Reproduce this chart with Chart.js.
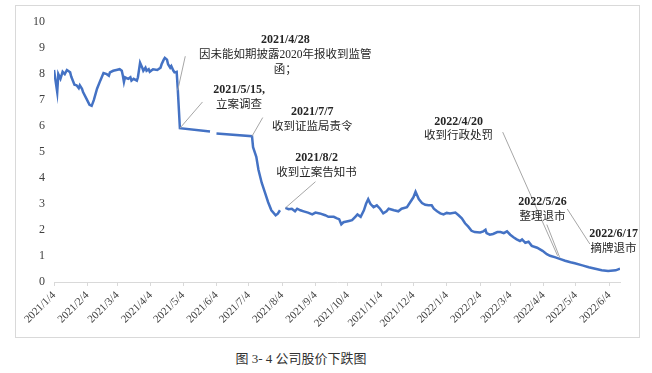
<!DOCTYPE html>
<html lang="zh">
  <head>
    <meta charset="utf-8">
    <title>公司股价下跌图</title>
    <style>
      body {padding: 0; margin: 0; background: #fff;}
      #box {position: absolute; left: 15px; top: 5px; width: 623px; height: 331px; border: 1px solid #d9d9d9;}
      #caption {position: absolute; left: 0; top: 348px; width: 602px; text-align: center;
        font: 13px "Liberation Serif", "Noto Sans CJK SC"; color: #333;}
    </style>
    <script src="https://cdn.jsdelivr.net/npm/chart.js@4.4.0/dist/chart.umd.min.js"></script>
  </head>
  <body>
    <div id="box"><canvas id="priceChart" width="623" height="331"></canvas></div>
    <div id="caption">图 3- 4 公司股价下跌图</div>
    <script>

      // x axis ticks (every month on the 4th)
      var tickLabels = ["2021/1/4", "2021/2/4", "2021/3/4", "2021/4/4", "2021/5/4", "2021/6/4",
        "2021/7/4", "2021/8/4", "2021/9/4", "2021/10/4", "2021/11/4", "2021/12/4",
        "2022/1/4", "2022/2/4", "2022/3/4", "2022/4/4", "2022/5/4", "2022/6/4"];

      // closing price (null = no trading)
      var dates = [
        "2021/1/4", "2021/1/7", "2021/1/8", "2021/1/10", "2021/1/12", "2021/1/14", "2021/1/16", "2021/1/17",
        "2021/1/19", "2021/1/20", "2021/1/23", "2021/1/25", "2021/1/27", "2021/1/28", "2021/1/30", "2021/1/31",
        "2021/2/3", "2021/2/6", "2021/2/8", "2021/2/10", "2021/2/13", "2021/2/16", "2021/2/19", "2021/2/22",
        "2021/2/24", "2021/2/25", "2021/2/28", "2021/3/3", "2021/3/6", "2021/3/8", "2021/3/9", "2021/3/10",
        "2021/3/11", "2021/3/14", "2021/3/16", "2021/3/17", "2021/3/19", "2021/3/22", "2021/3/23", "2021/3/25",
        "2021/3/27", "2021/3/28", "2021/3/30", "2021/3/31", "2021/4/2", "2021/4/3", "2021/4/6", "2021/4/10",
        "2021/4/13", "2021/4/14", "2021/4/16", "2021/4/17", "2021/4/19", "2021/4/20", "2021/4/22", "2021/4/23",
        "2021/4/25", "2021/4/26", "2021/4/28", "2021/4/29", "2021/5/1", "2021/5/29", "2021/6/1", "2021/6/4",
        "2021/7/7", "2021/7/8", "2021/7/11", "2021/7/13", "2021/7/16", "2021/7/19", "2021/7/22", "2021/7/25",
        "2021/7/29", "2021/7/31", "2021/8/2", "2021/8/4", "2021/8/7", "2021/8/10", "2021/8/13", "2021/8/16",
        "2021/8/18", "2021/8/21", "2021/8/24", "2021/8/28", "2021/9/1", "2021/9/4", "2021/9/8", "2021/9/13",
        "2021/9/16", "2021/9/21", "2021/9/24", "2021/9/26", "2021/9/28", "2021/9/30", "2021/10/5", "2021/10/8",
        "2021/10/11", "2021/10/13", "2021/10/16", "2021/10/19", "2021/10/21", "2021/10/23", "2021/10/25", "2021/10/28",
        "2021/10/31", "2021/11/3", "2021/11/6", "2021/11/9", "2021/11/11", "2021/11/16", "2021/11/20", "2021/11/23",
        "2021/11/28", "2021/12/1", "2021/12/4", "2021/12/6", "2021/12/9", "2021/12/12", "2021/12/15", "2021/12/18",
        "2021/12/21", "2021/12/23", "2021/12/26", "2021/12/29", "2022/1/1", "2022/1/4", "2022/1/7", "2022/1/12",
        "2022/1/15", "2022/1/18", "2022/1/21", "2022/1/24", "2022/1/27", "2022/1/30", "2022/2/4", "2022/2/7",
        "2022/2/9", "2022/2/10", "2022/2/13", "2022/2/16", "2022/2/20", "2022/2/23", "2022/2/26", "2022/3/1",
        "2022/3/4", "2022/3/7", "2022/3/10", "2022/3/13", "2022/3/15", "2022/3/18", "2022/3/21", "2022/3/24",
        "2022/3/29", "2022/4/3", "2022/4/7", "2022/4/10", "2022/4/15", "2022/4/19", "2022/4/24", "2022/4/29",
        "2022/5/3", "2022/5/10", "2022/5/16", "2022/5/22", "2022/5/28", "2022/6/3", "2022/6/10", "2022/6/14"];
      var prices = [
        8.16, 7.31, 8.00, 7.82, 8.09, 8.00, 8.16, 8.13,
        8.07, 7.91, 7.59, 7.57, 7.46, 7.57, 7.44, 7.31,
        7.07, 6.82, 6.78, 7.00, 7.44, 7.75, 8.04, 8.00,
        7.94, 8.07, 8.13, 8.16, 8.19, 8.13, 7.94, 7.70,
        7.88, 7.82, 7.88, 7.75, 7.82, 7.75, 7.88, 8.44,
        8.25, 8.13, 8.25, 8.13, 8.19, 8.09, 8.19, 8.16,
        8.25, 8.38, 8.56, 8.63, 8.56, 8.38, 8.25, 8.31,
        8.13, 8.07, 8.09, 7.44, 5.92, 5.79, null, 5.72,
        5.61, 5.19, 4.82, 4.32, 3.82, 3.45, 3.07, 2.76,
        2.57, 2.63, 2.76, null, 2.85, 2.80, 2.82, 2.72,
        2.82, 2.76, 2.72, 2.67, 2.60, 2.67, 2.64, 2.57,
        2.51, 2.51, 2.45, 2.42, 2.22, 2.30, 2.35, 2.38,
        2.51, 2.60, 2.51, 2.76, 3.01, 3.19, 3.01, 2.88,
        2.95, 2.82, 2.64, 2.72, 2.82, 2.76, 2.72, 2.82,
        2.88, 3.07, 3.26, 3.47, 3.19, 3.04, 2.97, 2.95,
        2.95, 2.82, 2.72, 2.64, 2.60, 2.66, 2.64, 2.67,
        2.57, 2.45, 2.26, 2.13, 1.97, 1.92, 1.91, 1.95,
        2.01, 1.88, 1.82, 1.85, 1.92, 1.92, 1.88, 1.95,
        1.82, 1.72, 1.64, 1.58, 1.64, 1.51, 1.55, 1.39,
        1.32, 1.20, 1.07, 1.01, 0.95, 0.89, 0.82, 0.76,
        0.72, 0.64, 0.57, 0.51, 0.45, 0.42, 0.45, 0.51];

      // event notes: text lines, where the text sits, and the leader line
      var notes = [
        {lines: ["2021/4/28", "因未能如期披露2020年报收到监管", "函；"], at: ["2021/8/7", 9.33], from: ["2021/5/6", 8.69], to: ["2021/4/29", 7.38]},
        {lines: ["2021/5/15,", "立案调查"], at: ["2021/6/25", 7.38], from: ["2021/5/22", 6.93], to: ["2021/5/1", 5.92]},
        {lines: ["2021/7/7", "收到证监局责令"], at: ["2021/9/1", 6.55], from: ["2021/7/17", 6.33], to: ["2021/7/7", 5.61]},
        {lines: ["2021/8/2", "收到立案告知书"], at: ["2021/9/5", 4.76], from: ["2021/9/4", 3.86], to: ["2021/8/7", 2.85]},
        {lines: ["2022/4/20", "收到行政处罚"], at: ["2022/1/15", 6.18], from: ["2022/2/25", 5.77], to: ["2022/4/17", 1.01]},
        {lines: ["2022/5/26", "整理退市"], at: ["2022/4/3", 3.07], from: ["2022/4/7", 2.21], to: ["2022/4/19", 0.94]},
        {lines: ["2022/6/17", "摘牌退市"], at: ["2022/6/8", 1.84], from: ["2022/4/26", 2.81], to: ["2022/5/17", 1.46]}
      ];

      function dayOf(s) {
        var p = s.split('/').map(Number);
        return Math.round((Date.UTC(p[0], p[1] - 1, p[2]) - Date.UTC(2021, 0, 4)) / 864e5);
      }

      var points = dates.map(function (d, i) { return {x: dayOf(d), y: prices[i]}; });
      var tickDays = tickLabels.map(dayOf);

      var notesPlugin = {
        id: 'notes',
        afterDatasetsDraw: function (chart) {
          var ctx = chart.ctx, xs = chart.scales.x, ys = chart.scales.y;
          ctx.save();
          notes.forEach(function (n) {
            // leader line
            ctx.strokeStyle = '#a6a6a6';
            ctx.lineWidth = 1;
            ctx.beginPath();
            ctx.moveTo(xs.getPixelForValue(dayOf(n.from[0])), ys.getPixelForValue(n.from[1]));
            ctx.lineTo(xs.getPixelForValue(dayOf(n.to[0])), ys.getPixelForValue(n.to[1]));
            ctx.stroke();
            // text
            var cx = xs.getPixelForValue(dayOf(n.at[0]));
            var cy = ys.getPixelForValue(n.at[1]);
            ctx.fillStyle = '#262626';
            ctx.textAlign = 'center';
            ctx.textBaseline = 'middle';
            n.lines.forEach(function (t, i) {
              ctx.font = i == 0 ? 'bold 12px "Liberation Serif"' : '11.5px "Liberation Serif", "Noto Sans CJK SC"';
              ctx.fillText(t, cx, cy + i * 15);
            });
          });
          ctx.restore();
        }
      };

      var ctx = document.getElementById('priceChart').getContext('2d');
      var myChart = new Chart(ctx, {
        type: 'line',
        data: {
          datasets: [{
            data: points,
            borderColor: '#4472c4',
            borderWidth: 2.5,
            pointRadius: 0,
            tension: 0,
            spanGaps: false
          }]
        },
        options: {
          responsive: false,
          animation: false,
          layout: {padding: {top: 9, right: 19, left: 0, bottom: 0}},
          plugins: {legend: {display: false}, tooltip: {enabled: false}},
          scales: {
            x: {
              type: 'linear',
              min: tickDays[0],
              max: dayOf(dates[dates.length - 1]),
              afterFit: function (s) { s.height = 55; },
              afterBuildTicks: function (s) { s.ticks = tickDays.map(function (v) { return {value: v}; }); },
              grid: {display: true, drawOnChartArea: false, tickLength: 4, color: '#d9d9d9'},
              border: {display: true, color: '#d9d9d9'},
              ticks: {
                autoSkip: false,
                minRotation: 45,
                maxRotation: 45,
                color: '#404040',
                font: {family: 'Liberation Serif', size: 11},
                callback: function (v) { return tickLabels[tickDays.indexOf(v)]; }
              }
            },
            y: {
              min: 0,
              max: 10,
              afterFit: function (s) { s.width = 38; },
              grid: {display: false, drawTicks: false},
              border: {display: false},
              ticks: {
                stepSize: 1,
                padding: 9,
                color: '#404040',
                font: {family: 'Liberation Serif', size: 12}
              }
            }
          }
        },
        plugins: [notesPlugin]
      });
    </script>
  </body>
</html>
